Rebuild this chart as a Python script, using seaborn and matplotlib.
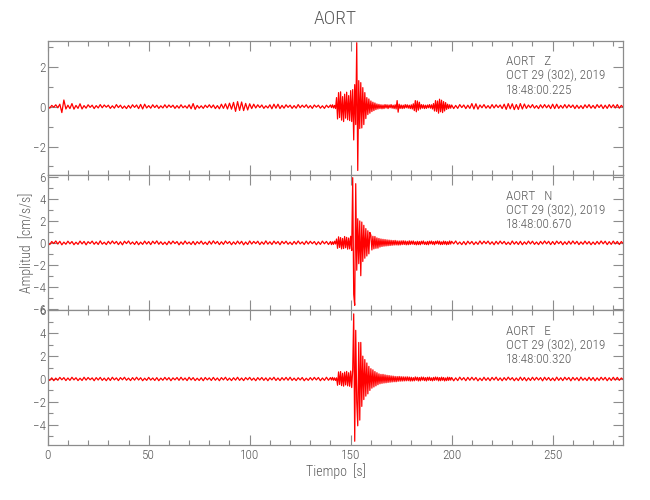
import numpy as np
import pandas as pd
import matplotlib
matplotlib.use("Agg")
import matplotlib.pyplot as plt
import seaborn as sns
from matplotlib.ticker import MultipleLocator
from matplotlib import font_manager as fm

# ---------------- data ----------------
station = "AORT"
components = ["Z", "N", "E"]
date_label = "OCT 29 (302), 2019"
start_times = ["18:48:00.225", "18:48:00.670", "18:48:00.320"]

# sample grid: (start s, stop s, step s) -- finer sampling around the event
segments = [(0, 140, 1.0), (140, 200, 0.5), (200, 286, 1.0)]

z_pre = [
    0.04, -0.08, 0.06, -0.03, 0.09, -0.06, 0.12, -0.30, 0.33, -0.12,
    0.07, -0.10, 0.15, -0.13, 0.06, -0.09, 0.14, -0.12, 0.05, -0.08,
    0.09, -0.04, 0.07, -0.10, 0.05, -0.07, 0.10, -0.06, 0.08, -0.03,
    0.07, -0.09, 0.04, -0.08, 0.10, -0.05, 0.07, -0.09, 0.03, -0.10,
    0.06, -0.08, 0.09, -0.04, 0.08, -0.10, 0.11, -0.12, 0.12, -0.07,
    0.05, -0.08, 0.09, -0.05, 0.07, -0.09, 0.04, -0.07, 0.09, -0.06,
    0.08, -0.04, 0.07, -0.09, 0.05, -0.08, 0.09, -0.06, 0.04, -0.08,
    0.09, -0.11, 0.15, -0.14, 0.06, -0.08, 0.04, -0.09, 0.07, -0.05,
    0.09, -0.06, 0.08, -0.10, 0.05, -0.11, 0.12, -0.09, 0.14, -0.12,
    0.17, -0.13, 0.21, -0.24, 0.25, -0.19, 0.23, -0.20, 0.16, -0.17,
    0.14, -0.10, 0.12, -0.07, 0.09, -0.05, 0.08, -0.09, 0.04, -0.07,
    0.09, -0.11, 0.12, -0.08, 0.12, -0.10, 0.06, -0.08, 0.09, -0.04,
    0.07, -0.09, 0.05, -0.08, 0.10, -0.06, 0.07, -0.04, 0.09, -0.07,
    0.05, -0.09, 0.08, -0.03, 0.07, -0.08, 0.04, -0.09, 0.07, -0.05,
]
z_evt = [
    0.08, -0.05, 0.09, -0.07, 0.06, -0.10, 0.45, -0.62, 0.70, -0.55,
    0.74, -0.68, 0.50, -0.75, 0.62, -0.58, 0.72, -0.66, 0.55, -0.70,
    0.80, -0.75, 0.85, -1.67, 1.10, -0.90, 3.20, -3.20, 1.30, -1.10,
    1.20, -1.07, 0.95, -0.90, 0.70, -0.60, 0.45, -0.40, 0.38, -0.33,
    0.28, -0.25, 0.22, -0.20, 0.18, -0.15, 0.13, -0.12, 0.11, -0.10,
    0.09, -0.11, 0.08, -0.10, 0.10, -0.07, 0.09, -0.10, 0.08, -0.06,
    0.10, -0.08, 0.07, -0.10, 0.09, -0.12, 0.30, -0.28, 0.12, -0.09,
    0.08, -0.10, 0.07, -0.09, 0.10, -0.06, 0.09, -0.08, 0.07, -0.10,
    0.09, -0.12, 0.14, -0.20, 0.30, -0.26, 0.28, -0.18, 0.22, -0.12,
    0.10, -0.08, 0.09, -0.10, 0.07, -0.09, 0.08, -0.06, 0.10, -0.08,
    0.09, -0.12, 0.15, -0.22, 0.30, -0.24, 0.28, -0.33, 0.37, -0.26,
    0.32, -0.30, 0.25, -0.22, 0.20, -0.14, 0.12, -0.10, 0.09, -0.08,
]
z_post = [
    0.08, -0.10, 0.06, -0.09, 0.10, -0.05, 0.08, -0.10, 0.07, -0.09,
    0.15, -0.12, 0.14, -0.13, 0.08, -0.06, 0.10, -0.08, 0.05, -0.09,
    0.10, -0.07, 0.09, -0.05, 0.08, -0.10, 0.12, -0.14, 0.15, -0.11,
    0.14, -0.15, 0.10, -0.14, 0.15, -0.12, 0.13, -0.09, 0.08, -0.06,
    0.10, -0.08, 0.05, -0.10, 0.09, -0.07, 0.10, -0.06, 0.08, -0.10,
    0.12, -0.10, 0.12, -0.09, 0.06, -0.08, 0.10, -0.07, 0.09, -0.05,
    0.08, -0.10, 0.07, -0.09, 0.05, -0.10, 0.09, -0.06, 0.10, -0.08,
    0.06, -0.09, 0.10, -0.05, 0.09, -0.10, 0.07, -0.09, 0.10, -0.06,
    0.09, -0.07, 0.10, -0.08, 0.06, -0.05,
]

n_pre = [
    0.08, -0.16, 0.12, -0.06, 0.17, -0.11, 0.14, -0.18, 0.07, -0.13,
    0.15, -0.09, 0.12, -0.17, 0.06, -0.14, 0.16, -0.10, 0.13, -0.18,
    0.11, -0.07, 0.16, -0.13, 0.09, -0.15, 0.18, -0.12, 0.06, -0.16,
    0.14, -0.10, 0.17, -0.08, 0.13, -0.16, 0.10, -0.18, 0.15, -0.07,
    0.17, -0.12, 0.08, -0.15, 0.13, -0.17, 0.07, -0.14, 0.16, -0.11,
    0.12, -0.16, 0.15, -0.08, 0.18, -0.13, 0.10, -0.15, 0.07, -0.17,
    0.14, -0.11, 0.16, -0.07, 0.12, -0.18, 0.09, -0.14, 0.17, -0.10,
    0.08, -0.15, 0.13, -0.17, 0.11, -0.09, 0.16, -0.13, 0.07, -0.16,
    0.15, -0.12, 0.18, -0.08, 0.13, -0.16, 0.10, -0.14, 0.17, -0.07,
    0.12, -0.17, 0.09, -0.13, 0.16, -0.10, 0.14, -0.18, 0.08, -0.15,
    0.17, -0.11, 0.13, -0.07, 0.15, -0.16, 0.09, -0.13, 0.18, -0.12,
    0.10, -0.15, 0.16, -0.09, 0.12, -0.17, 0.14, -0.08, 0.15, -0.13,
    0.07, -0.16, 0.13, -0.12, 0.17, -0.10, 0.09, -0.15, 0.16, -0.11,
    0.14, -0.08, 0.12, -0.17, 0.10, -0.14, 0.16, -0.09, 0.13, -0.15,
]
n_evt = [
    0.12, -0.16, 0.09, -0.14, 0.15, -0.10, 0.35, -0.50, 0.55, -0.42,
    0.48, -0.55, 0.40, -0.52, 0.58, -0.45, 0.50, -0.58, 0.44, -0.55,
    0.60, -0.70, 5.95, -4.70, -5.70, 5.40, -2.50, 2.20, -1.90, 2.00,
    -3.00, 1.90, -1.70, 1.60, -1.40, 1.30, -1.20, 1.10, -1.00, 0.95,
    0.70, -0.65, 0.60, -0.55, 0.58, -0.50, 0.45, -0.48, 0.40, -0.38,
    0.35, -0.33, 0.32, -0.30, 0.30, -0.28, 0.27, -0.26, 0.25, -0.24,
    0.23, -0.22, 0.21, -0.20, 0.22, -0.19, 0.18, -0.20, 0.17, -0.19,
    0.18, -0.16, 0.19, -0.15, 0.17, -0.18, 0.14, -0.17, 0.18, -0.15,
    0.16, -0.12, 0.17, -0.15, 0.10, -0.18, 0.14, -0.16, 0.12, -0.17,
    0.15, -0.10, 0.17, -0.14, 0.08, -0.16, 0.13, -0.17, 0.15, -0.09,
    0.16, -0.13, 0.11, -0.17, 0.14, -0.08, 0.17, -0.12, 0.15, -0.16,
    0.09, -0.15, 0.16, -0.12, 0.13, -0.17, 0.10, -0.14, 0.17, -0.11,
]
n_post = [
    0.14, -0.09, 0.17, -0.13, 0.08, -0.16, 0.12, -0.17, 0.15, -0.10,
    0.13, -0.16, 0.09, -0.14, 0.17, -0.11, 0.15, -0.08, 0.16, -0.13,
    0.10, -0.17, 0.14, -0.12, 0.16, -0.09, 0.13, -0.15, 0.07, -0.16,
    0.17, -0.12, 0.11, -0.15, 0.14, -0.17, 0.09, -0.13, 0.16, -0.10,
    0.15, -0.14, 0.08, -0.16, 0.13, -0.11, 0.17, -0.09, 0.14, -0.16,
    0.12, -0.15, 0.16, -0.08, 0.13, -0.17, 0.10, -0.14, 0.15, -0.12,
    0.17, -0.10, 0.14, -0.16, 0.09, -0.13, 0.16, -0.11, 0.12, -0.17,
    0.08, -0.15, 0.13, -0.12, 0.17, -0.09, 0.15, -0.16, 0.11, -0.14,
    0.16, -0.10, 0.13, -0.15, 0.12, -0.08,
]

e_pre = [
    0.06, -0.13, 0.10, -0.15, 0.08, -0.11, 0.14, -0.07, 0.12, -0.14,
    0.09, -0.12, 0.15, -0.08, 0.11, -0.14, 0.07, -0.13, 0.15, -0.10,
    0.13, -0.07, 0.10, -0.15, 0.12, -0.09, 0.14, -0.12, 0.08, -0.15,
    0.11, -0.13, 0.15, -0.08, 0.10, -0.14, 0.12, -0.07, 0.15, -0.11,
    0.08, -0.14, 0.12, -0.10, 0.15, -0.09, 0.11, -0.15, 0.07, -0.12,
    0.14, -0.10, 0.09, -0.13, 0.12, -0.15, 0.08, -0.11, 0.14, -0.09,
    0.12, -0.15, 0.10, -0.08, 0.13, -0.12, 0.15, -0.10, 0.09, -0.14,
    0.15, -0.09, 0.12, -0.14, 0.07, -0.13, 0.11, -0.15, 0.13, -0.08,
    0.10, -0.13, 0.14, -0.11, 0.09, -0.15, 0.12, -0.08, 0.15, -0.12,
    0.08, -0.14, 0.11, -0.10, 0.15, -0.12, 0.09, -0.14, 0.12, -0.07,
    0.14, -0.11, 0.08, -0.15, 0.12, -0.09, 0.13, -0.12, 0.10, -0.15,
    0.11, -0.08, 0.15, -0.13, 0.09, -0.14, 0.12, -0.10, 0.14, -0.11,
    0.15, -0.12, 0.08, -0.14, 0.11, -0.09, 0.13, -0.15, 0.07, -0.12,
    0.12, -0.10, 0.14, -0.08, 0.13, -0.15, 0.09, -0.12, 0.15, -0.11,
]
e_evt = [
    0.12, -0.09, 0.14, -0.11, 0.10, -0.13, 0.10, -0.55, 0.62, -0.48,
    0.65, -0.58, 0.50, -0.63, 0.60, -0.52, 0.66, -0.60, 0.55, -0.64,
    0.70, -0.75, 0.80, 5.70, -5.45, 4.26, -2.00, -4.10, 3.20, -3.60,
    3.20, -2.40, 2.00, -1.80, 1.70, -1.50, 1.40, -1.30, 1.10, -1.00,
    0.90, -0.80, 0.80, -0.70, 0.65, -0.60, 0.55, -0.50, 0.45, -0.42,
    0.40, -0.38, 0.40, -0.35, 0.36, -0.33, 0.32, -0.30, 0.30, -0.28,
    0.27, -0.26, 0.25, -0.24, 0.22, -0.24, 0.21, -0.20, 0.22, -0.19,
    0.20, -0.18, 0.19, -0.17, 0.18, -0.16, 0.19, -0.15, 0.17, -0.18,
    0.15, -0.17, 0.12, -0.16, 0.18, -0.11, 0.15, -0.17, 0.13, -0.16,
    0.17, -0.10, 0.16, -0.14, 0.12, -0.17, 0.15, -0.11, 0.16, -0.13,
    0.10, -0.16, 0.14, -0.12, 0.17, -0.09, 0.15, -0.16, 0.12, -0.15,
    0.16, -0.11, 0.13, -0.17, 0.09, -0.14, 0.16, -0.12, 0.14, -0.10,
]
e_post = [
    0.13, -0.16, 0.10, -0.14, 0.16, -0.09, 0.12, -0.15, 0.14, -0.11,
    0.15, -0.10, 0.13, -0.16, 0.08, -0.14, 0.15, -0.12, 0.11, -0.15,
    0.14, -0.09, 0.16, -0.13, 0.10, -0.15, 0.12, -0.11, 0.16, -0.08,
    0.12, -0.15, 0.09, -0.14, 0.16, -0.12, 0.13, -0.16, 0.10, -0.13,
    0.15, -0.11, 0.14, -0.09, 0.12, -0.16, 0.15, -0.10, 0.13, -0.14,
    0.09, -0.15, 0.16, -0.12, 0.11, -0.14, 0.15, -0.08, 0.13, -0.16,
    0.14, -0.10, 0.12, -0.15, 0.16, -0.11, 0.09, -0.14, 0.15, -0.12,
    0.13, -0.16, 0.10, -0.13, 0.15, -0.09, 0.14, -0.15, 0.11, -0.13,
    0.15, -0.10, 0.14, -0.12, 0.09, -0.07,
]

y_limits = [(-3.45, 3.30), (-6.15, 6.15), (-5.78, 6.02)]
x_limits = (0, 285)

# ---------------- font choice (narrow face if one is installed) ----------------
sns.set_theme(style="ticks")
entries = fm.fontManager.ttflist
narrow = None
for pref in ["Liberation Sans Narrow", "Roboto Condensed", "Open Sans Condensed",
             "Noto Sans Condensed"]:
    if any(f.name == pref for f in entries):
        narrow = (pref, "normal")
        break
if narrow is None:
    for fam in ["DejaVu Sans", "Noto Sans", "Roboto", "Open Sans", "Liberation Sans"]:
        if any(f.name == fam and f.stretch in ("condensed", "semi-condensed", "extra-condensed")
               for f in entries):
            narrow = (fam, "condensed")
            break
if narrow is None:
    narrow = ("DejaVu Sans", "normal")
    scale = 0.86
else:
    scale = 1.0
plt.rcParams["font.family"] = [narrow[0], "DejaVu Sans"]
plt.rcParams["font.stretch"] = narrow[1]
plt.rcParams["font.weight"] = "light"

frame_col = "#8c8c8c"
text_col = "#5a5a5a"
trace_col = "#ff0000"

# ---------------- assemble table ----------------
times = np.concatenate([np.arange(a, b, s) for a, b, s in segments])
df = pd.DataFrame({
    "Tiempo": times,
    "Z": z_pre + z_evt + z_post,
    "N": n_pre + n_evt + n_post,
    "E": e_pre + e_evt + e_post,
})

fig = plt.figure(figsize=(6.5, 5), dpi=100)
axes = fig.subplots(3, 1, sharex=True)
fig.subplots_adjust(left=0.0734, right=0.959, top=0.9186, bottom=0.11, hspace=0)

tick_fs = 9.5 * scale
ann_fs = 9.5 * scale

for ax, comp, ylim, stime in zip(axes, components, y_limits, start_times):
    sns.lineplot(data=df, x="Tiempo", y=comp, ax=ax, color=trace_col,
                 linewidth=0.9, estimator=None, sort=False, legend=False)
    ax.set_xlim(*x_limits)
    ax.set_ylim(*ylim)
    ax.set_xlabel("")
    ax.set_ylabel("")
    ax.set_facecolor("white")
    ax.yaxis.set_major_locator(MultipleLocator(2))
    ax.yaxis.set_minor_locator(MultipleLocator(1))
    ax.xaxis.set_major_locator(MultipleLocator(50))
    ax.xaxis.set_minor_locator(MultipleLocator(10))
    ax.tick_params(which="both", direction="in", top=True, right=True,
                   color=frame_col, labelcolor=text_col, labelsize=tick_fs, width=0.8)
    ax.tick_params(which="major", length=7, pad=3)
    ax.tick_params(which="minor", length=3.5)
    ax.tick_params(axis="y", which="major", pad=1.5)
    for s in ax.spines.values():
        s.set_color(frame_col)
        s.set_linewidth(0.9)
    ax.text(0.7957, 0.844, f"{station}   {comp}", transform=ax.transAxes,
            ha="left", va="center", fontsize=ann_fs, color=text_col)
    ax.text(0.7957, 0.740, date_label, transform=ax.transAxes,
            ha="left", va="center", fontsize=ann_fs, color=text_col)
    ax.text(0.7957, 0.634, stime, transform=ax.transAxes,
            ha="left", va="center", fontsize=ann_fs, color=text_col)

fig.text(0.516, 0.963, station, ha="center", va="center", fontsize=14 * scale, color=text_col)
fig.text(0.516, 0.058, "Tiempo  [s]", ha="center", va="center", fontsize=10 * scale,
         color=text_col)
fig.text(0.040, 0.514, "Amplitud  [cm/s/s]", rotation=90, ha="center", va="center",
         fontsize=10 * scale, color=text_col)

fig.savefig("out.png", dpi=100)
